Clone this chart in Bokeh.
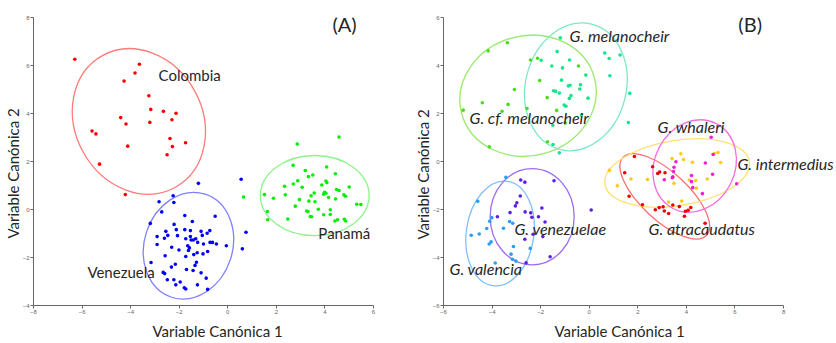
import math
from bokeh.plotting import figure
from bokeh.layouts import row
from bokeh.models import Range1d, FixedTicker, Label, Title
from bokeh.embed import file_html
from bokeh.resources import INLINE

# ---------------- Panel A data ----------------
colombia_x = [-6.30, -3.64, -3.82, -4.27, -3.25, -3.17, -2.65, -2.13, -4.41, -2.30, -3.21,
              -4.19, -5.59, -5.43, -2.38, -1.74, -4.12, -2.28, -2.50, -5.28, -4.22]
colombia_y = [6.26, 6.05, 5.69, 5.35, 4.74, 4.17, 4.09, 4.01, 3.83, 3.74, 3.63,
              3.56, 3.27, 3.15, 2.96, 2.78, 2.64, 2.62, 2.28, 1.89, 0.62]

venezuela_x = [-1.21, 0.55, -2.25, -2.83, -2.22, -2.72, -1.77, -0.52, -3.19, -1.46, -2.21, 0.75,
               -2.55, -2.12, -1.77, -1.54, -1.10, -0.74, -2.91, -2.47, -2.07, -1.73, -1.54, -1.32,
               -1.05, -0.85, -2.61, -1.51, -1.42, -1.24, -1.00, -0.73, -0.63, -0.47, -0.06, 0.60,
               -2.91, -2.31, -1.65, -1.58, -1.62, -1.26, -1.40, -1.02, -0.83, -2.58, -1.73, -2.01,
               -3.16, -1.29, -1.35, -2.16, -2.32, -1.70, -1.43, -2.66, -2.60, -1.10, -0.89, -2.49,
               -2.22, -1.96, -2.14, -1.79, -1.73, -1.25, -0.83]
venezuela_y = [1.09, 1.26, 0.57, 0.32, 0.29, -0.10, -0.25, -0.28, -0.58, -0.50, -0.62, -0.95,
               -0.91, -0.84, -0.84, -0.88, -0.91, -0.88, -1.13, -1.08, -1.09, -1.22, -1.13, -1.22,
               -1.08, -0.99, -1.20, -1.27, -1.27, -1.37, -1.44, -1.37, -1.37, -1.44, -1.51, -1.64,
               -1.46, -1.57, -1.51, -1.60, -1.71, -1.80, -1.88, -1.85, -1.75, -1.93, -1.96, -1.69,
               -2.21, -2.20, -2.33, -2.28, -2.40, -2.50, -2.54, -2.62, -2.67, -2.64, -2.86, -2.93,
               -2.93, -3.02, -3.14, -3.26, -3.31, -3.14, -3.33]

panama_x = [2.86, 4.58, 2.69, 3.19, 4.07, 3.32, 3.50, 4.43, 2.88, 2.70, 2.34, 3.06, 4.04, 4.08,
            3.87, 5.00, 4.48, 4.58, 4.78, 4.85, 3.99, 4.04, 3.95, 4.15, 3.56, 3.43, 2.37, 1.51,
            1.88, 2.95, 3.34, 3.59, 4.44, 5.31, 5.48, 2.78, 3.25, 3.30, 3.73, 4.22, 1.63, 3.40,
            3.45, 3.95, 4.22, 1.64, 2.47, 4.41, 4.52, 4.80, 4.85, 0.65]
panama_y = [2.73, 3.02, 1.84, 1.62, 1.77, 1.37, 1.44, 1.49, 1.20, 1.06, 0.97, 0.93, 1.19, 1.12,
            1.02, 0.94, 0.83, 0.79, 0.61, 0.55, 0.72, 0.68, 0.64, 0.50, 0.69, 0.57, 0.61, 0.62,
            0.47, 0.41, 0.35, 0.32, 0.44, 0.22, 0.21, 0.14, -0.06, -0.08, 0.01, -0.01, -0.08, -0.29,
            -0.30, -0.22, -0.21, -0.43, -0.40, -0.48, -0.43, -0.41, -0.48, 0.52]

# ellipses A: Colombia, Venezuela, Panama
ellA_cx = [-3.66, -1.62, 3.58]
ellA_cy = [3.67, -1.51, 0.58]
ellA_w = [6.20, 4.46, 4.48]
ellA_h = [5.30, 3.68, 3.34]
ellA_ang = [119, 72, 0]

# ---------------- Panel B data ----------------
cfmel_x = [-3.37, -4.16, -2.42, -2.13, -0.44, -2.04, -3.08, -1.73, -4.40, -3.34, -5.19, -2.56,
           -3.59, -1.34, -0.99, -1.72, -4.11]
cfmel_y = [4.95, 4.61, 4.23, 4.30, 3.98, 3.37, 3.00, 2.66, 2.45, 2.38, 2.14, 2.21,
           2.09, 2.13, 1.60, 0.82, 0.61]

mel_x = [-1.19, -1.32, -1.54, -1.10, -0.81, -1.98, -0.14, 0.64, 0.82, 1.27, 0.85, -1.14, -0.79,
         -0.86, -0.36, -0.39, -1.47, -1.38, -1.23, -0.75, -0.82, -0.05, 1.67, -1.03, -0.96,
         -0.32, -1.50, 1.61, -1.49, -1.23]
mel_y = [5.15, 4.58, 3.98, 3.90, 4.23, 4.22, 3.60, 4.52, 4.29, 4.44, 3.57, 3.39, 3.18,
         3.15, 3.20, 3.02, 2.95, 2.92, 2.85, 2.75, 2.63, 2.64, 2.84, 2.35, 2.30,
         1.94, 1.51, 1.62, 0.71, 0.36]

val_x = [-3.43, -4.59, -4.01, -4.10, -4.22, -4.53, -4.86, -4.04, -4.12, -3.53, -3.28, -3.15,
         -3.12, -2.43, -3.22, -3.16, -3.02, -3.87]
val_y = [-0.66, -1.66, -2.34, -2.49, -2.79, -3.02, -3.07, -3.35, -3.44, -2.78, -2.50, -2.57,
         -3.54, -3.62, -3.86, -4.07, -4.15, -4.23]

vene_x = [-2.82, -2.65, -1.45, -2.84, -2.98, -3.04, -3.26, -3.78, -2.64, -2.41, -2.36, -2.09,
          -1.95, -1.82, -2.31, -1.91, -2.65, -1.61, -2.60, 0.08]
vene_y = [-0.77, -0.86, -0.80, -1.44, -1.72, -1.85, -2.13, -2.30, -2.10, -2.14, -2.32, -2.30,
          -1.94, -2.52, -3.03, -3.13, -3.24, -3.97, -4.22, -2.02]

atr_x = [1.86, 1.46, 2.61, 2.82, 2.90, 3.12, 3.44, 1.64, 2.19, 2.72, 2.88, 3.09, 3.27, 3.04,
         3.44, 3.71, 3.96, 4.07, 4.18, 3.92, 4.77]
atr_y = [0.21, -0.47, -0.22, -0.50, -0.44, -0.47, -0.65, -1.45, -1.80, -2.01, -1.92, -2.06,
         -2.17, -1.89, -1.81, -1.88, -2.07, -2.03, -1.92, -2.28, -2.57]

int_x = [0.83, 1.16, 1.72, 2.40, 3.41, 3.77, 3.88, 4.25, 5.15, 5.30, 5.41, 3.49, 4.38, 4.41,
         4.86, 3.81, 3.26, 4.12]
int_y = [-0.37, -1.01, -0.73, -0.75, 0.12, 0.32, 0.08, -0.03, 0.33, 0.37, -0.04, -0.91, -0.79,
         -1.11, -0.73, -1.65, -1.69, -0.77]

wha_x = [5.02, 5.10, 4.78, 3.49, 3.57, 3.09, 3.42, 4.21, 4.21, 4.26, 4.66, 5.08, 6.07, 3.47]
wha_y = [1.01, 0.29, -0.06, -0.24, -0.01, -0.76, -0.68, -0.58, -0.84, -1.09, -1.34, -0.53,
         -0.93, -0.42]

# ellipses B: cf. melanocheir, melanocheir, valencia, venezuelae, atracaudatus, intermedius, whaleri
ellB_cx = [-2.52, -0.55, -3.67, -2.35, 3.11, 3.62, 4.34]
ellB_cy = [2.74, 3.11, -3.00, -2.30, -1.45, -0.48, -0.19]
ellB_w = [5.66, 5.32, 4.34, 3.46, 4.70, 6.02, 3.92]
ellB_h = [5.00, 4.20, 2.82, 4.01, 1.98, 2.72, 3.34]
ellB_ang = [15, 76, 82, 0, -43, 9, 63]

FONT = "Lato"
TXT = "#262626"
AX_TITLE = "Variable Canónica 1"
AY_TITLE = "Variable Canónica 2"


def base_fig(width, height, xr, yr, xb, yb, xt, yt, bl, br, bt, bb):
    p = figure(width=width, height=height, x_range=Range1d(*xr), y_range=Range1d(*yr),
               output_backend="svg", toolbar_location=None,
               min_border_left=bl, min_border_right=br, min_border_top=bt, min_border_bottom=bb)
    p.outline_line_color = None
    p.grid.visible = False
    p.background_fill_color = "white"
    p.border_fill_color = "white"
    p.xaxis.ticker = FixedTicker(ticks=xt)
    p.yaxis.ticker = FixedTicker(ticks=yt)
    p.xaxis.bounds = xb
    p.yaxis.bounds = yb
    for ax in (p.xaxis, p.yaxis):
        ax.axis_line_color = "#666666"
        ax.major_tick_line_color = "#666666"
        ax.major_tick_out = 3
        ax.major_tick_in = 0
        ax.minor_tick_line_color = None
        ax.major_label_text_font_size = "6px"
        ax.major_label_text_color = "#666666"
        ax.major_label_standoff = 1
    return p


def add_titles(p, xoff, yoff, xstand, ystand):
    p.add_layout(Title(text=AX_TITLE, align="left", offset=xoff, standoff=xstand,
                       text_font=FONT, text_font_size="15px", text_font_style="normal",
                       text_color=TXT), "below")
    p.add_layout(Title(text=AY_TITLE, align="left", offset=yoff, standoff=ystand,
                       text_font=FONT, text_font_size="15px", text_font_style="normal",
                       text_color=TXT), "left")


def add_ellipses(p, cx, cy, w, h, ang, colors):
    for i in range(len(cx)):
        p.ellipse(x=[cx[i]], y=[cy[i]], width=[w[i]], height=[h[i]],
                  angle=[math.radians(ang[i])], fill_alpha=0, line_color=colors[i],
                  line_width=1.3)


def add_label(p, x, y, text, size, italic=False):
    p.add_layout(Label(x=x, y=y, text=text, text_font=FONT, text_font_size=size,
                       text_color=TXT, text_align="left", text_baseline="middle",
                       text_font_style="italic" if italic else "normal"))


# ---------------- Panel A ----------------
pA = base_fig(410, 343, (-8, 6), (-4, 8), (-8, 6), (-4, 8),
              list(range(-8, 7, 2)), list(range(-4, 9, 2)), 33, 37, 17, 36)
add_ellipses(pA, ellA_cx, ellA_cy, ellA_w, ellA_h, ellA_ang, ["#ff7a7a", "#8080ff", "#8af58a"])
pA.scatter(colombia_x, colombia_y, size=3.6, color="#ff0000", line_width=0)
pA.scatter(venezuela_x, venezuela_y, size=3.6, color="#0000ff", line_width=0)
pA.scatter(panama_x, panama_y, size=3.6, color="#00ee00", line_width=0)
add_label(pA, -2.85, 5.60, "Colombia", "15px")
add_label(pA, 3.73, -0.98, "Panamá", "15px")
add_label(pA, -5.78, -2.59, "Venezuela", "15px")
add_label(pA, 4.31, 7.71, "(A)", "20px")
add_titles(pA, 119, 67, 6, -4)

# ---------------- Panel B ----------------
pB = base_fig(426, 343, (-6, 10.18), (-6, 6), (-6, 8), (-6, 6),
              list(range(-6, 9, 2)), list(range(-6, 7, 2)), 33, 0, 16, 38)
add_ellipses(pB, ellB_cx, ellB_cy, ellB_w, ellB_h, ellB_ang,
             ["#9bea6e", "#7de8c4", "#80c0ff", "#9f6cf0", "#ff6e6e", "#ffe070", "#f56ee0"])
pB.scatter(cfmel_x, cfmel_y, size=3.6, color="#4cdc1e", line_width=0)
pB.scatter(mel_x, mel_y, size=3.6, color="#10e68a", line_width=0)
pB.scatter(val_x, val_y, size=3.6, color="#2a9df4", line_width=0)
pB.scatter(vene_x, vene_y, size=3.6, color="#5a1ee6", line_width=0)
pB.scatter(int_x, int_y, size=3.6, color="#ffc820", line_width=0)
pB.scatter(atr_x, atr_y, size=3.6, color="#f00000", line_width=0)
pB.scatter(wha_x, wha_y, size=3.6, color="#f020d0", line_width=0)
add_label(pB, -0.81, 5.25, "G. melanocheir", "16px", italic=True)
add_label(pB, -4.93, 1.85, "G. cf. melanocheir", "16px", italic=True)
add_label(pB, 2.81, 1.47, "G. whaleri", "16px", italic=True)
add_label(pB, 6.10, -0.10, "G. intermedius", "16px", italic=True)
add_label(pB, -3.08, -2.80, "G. venezuelae", "16px", italic=True)
add_label(pB, 2.44, -2.80, "G. atracaudatus", "16px", italic=True)
add_label(pB, -5.75, -4.47, "G. valencia", "16px", italic=True)
add_label(pB, 6.14, 5.75, "(B)", "20px")
add_titles(pB, 111, 66, 6, -4)

layout = row(pA, pB)
open("out.html", "w").write(file_html(layout, INLINE))
